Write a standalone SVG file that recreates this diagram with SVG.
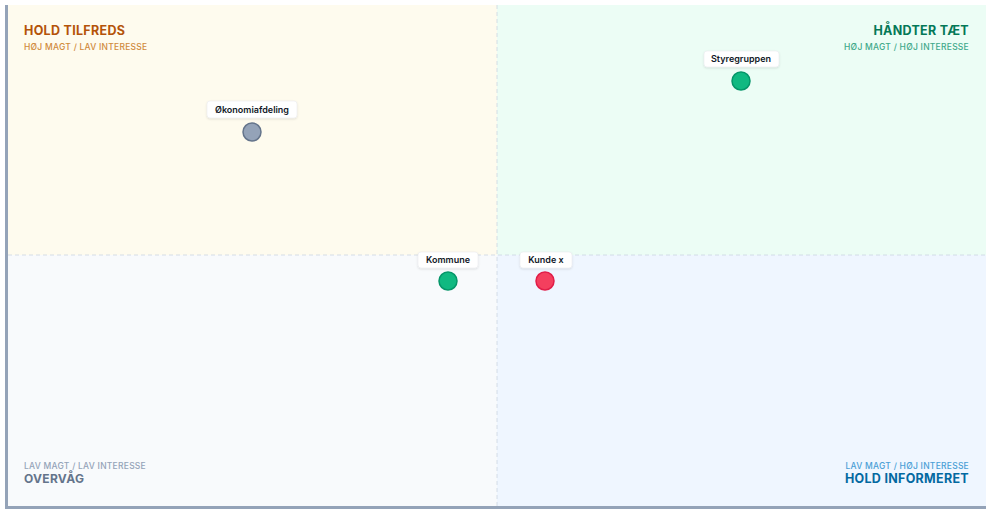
<svg xmlns="http://www.w3.org/2000/svg" width="990" height="513" viewBox="0 0 990 513">
<defs>
<style>
.q-title{font-family:Inter,"Liberation Sans",sans-serif;font-size:12.5px;font-weight:700;letter-spacing:0.3px}
.q-sub{font-family:Inter,"Liberation Sans",sans-serif;font-size:8.5px;font-weight:500;letter-spacing:0.25px}
.lbl-box{fill:#ffffff;stroke:#e5e7eb;stroke-width:0.5;filter:url(#sh)}
.lbl{font-family:Inter,"Liberation Sans",sans-serif;font-size:9px;font-weight:600;fill:#111827;text-anchor:middle}
.mid{stroke:#cbd5e1;stroke-width:0.8;stroke-dasharray:4 3;fill:none}
.axis{stroke:#94a3b8;stroke-width:3;fill:none}
</style>
<filter id="sh" x="-20%" y="-40%" width="140%" height="180%">
<feDropShadow dx="0" dy="1" stdDeviation="1" flood-color="#000" flood-opacity="0.12"/>
</filter>
</defs>
<rect width="990" height="513" fill="#ffffff"/>
<g id="quadrants">
<rect x="8" y="5" width="489" height="250" fill="#fefbee"/>
<rect x="497" y="5" width="489" height="250" fill="#ecfdf5"/>
<rect x="8" y="255" width="489" height="251" fill="#f8fafc"/>
<rect x="497" y="255" width="489" height="251" fill="#eff6ff"/>
<line class="mid" x1="497" y1="5" x2="497" y2="506"/>
<line class="mid" x1="8" y1="255" x2="986" y2="255"/>
<text class="q-title" x="24" y="35" fill="#b45309">HOLD TILFREDS</text>
<text class="q-sub" x="24" y="50" fill="#d08a3c">HØJ MAGT / LAV INTERESSE</text>
<text class="q-title" x="969" y="35" fill="#047857" text-anchor="end">HÅNDTER TÆT</text>
<text class="q-sub" x="969" y="50" fill="#3fa98a" text-anchor="end">HØJ MAGT / HØJ INTERESSE</text>
<text class="q-sub" x="24" y="469" fill="#94a3b8">LAV MAGT / LAV INTERESSE</text>
<text class="q-title" x="24" y="483" fill="#64748b" style="font-size:12px">OVERVÅG</text>
<text class="q-sub" x="969" y="469" fill="#4b9fd6" text-anchor="end">LAV MAGT / HØJ INTERESSE</text>
<text class="q-title" x="969" y="483" fill="#0369a1" text-anchor="end">HOLD INFORMERET</text>
</g>
<g id="axes">
<line class="axis" x1="6.5" y1="5" x2="6.5" y2="509"/>
<line class="axis" x1="5" y1="507.5" x2="986" y2="507.5"/>
</g>
<g id="node-okonomi">
<rect class="lbl-box" x="207" y="101" width="90" height="17" rx="3"/>
<text class="lbl" x="252" y="113">Økonomiafdeling</text>
<circle cx="252" cy="132" r="9" fill="#94a3b8" stroke="#64748b" stroke-width="1.5"/>
</g>
<g id="node-styregruppen">
<rect class="lbl-box" x="704" y="51" width="75" height="16" rx="3"/>
<text class="lbl" x="741" y="62">Styregruppen</text>
<circle cx="741" cy="81" r="9" fill="#10b981" stroke="#059669" stroke-width="1.5"/>
</g>
<g id="node-kommune">
<rect class="lbl-box" x="418" y="252" width="60" height="16" rx="3"/>
<text class="lbl" x="448" y="263">Kommune</text>
<circle cx="448" cy="281" r="9" fill="#10b981" stroke="#059669" stroke-width="1.5"/>
</g>
<g id="node-kunde">
<rect class="lbl-box" x="520" y="252" width="52" height="16" rx="3"/>
<text class="lbl" x="546" y="263">Kunde x</text>
<circle cx="545" cy="281" r="9" fill="#f43f5e" stroke="#e11d48" stroke-width="1.5"/>
</g>
<g id="connectors"/>
</svg>
